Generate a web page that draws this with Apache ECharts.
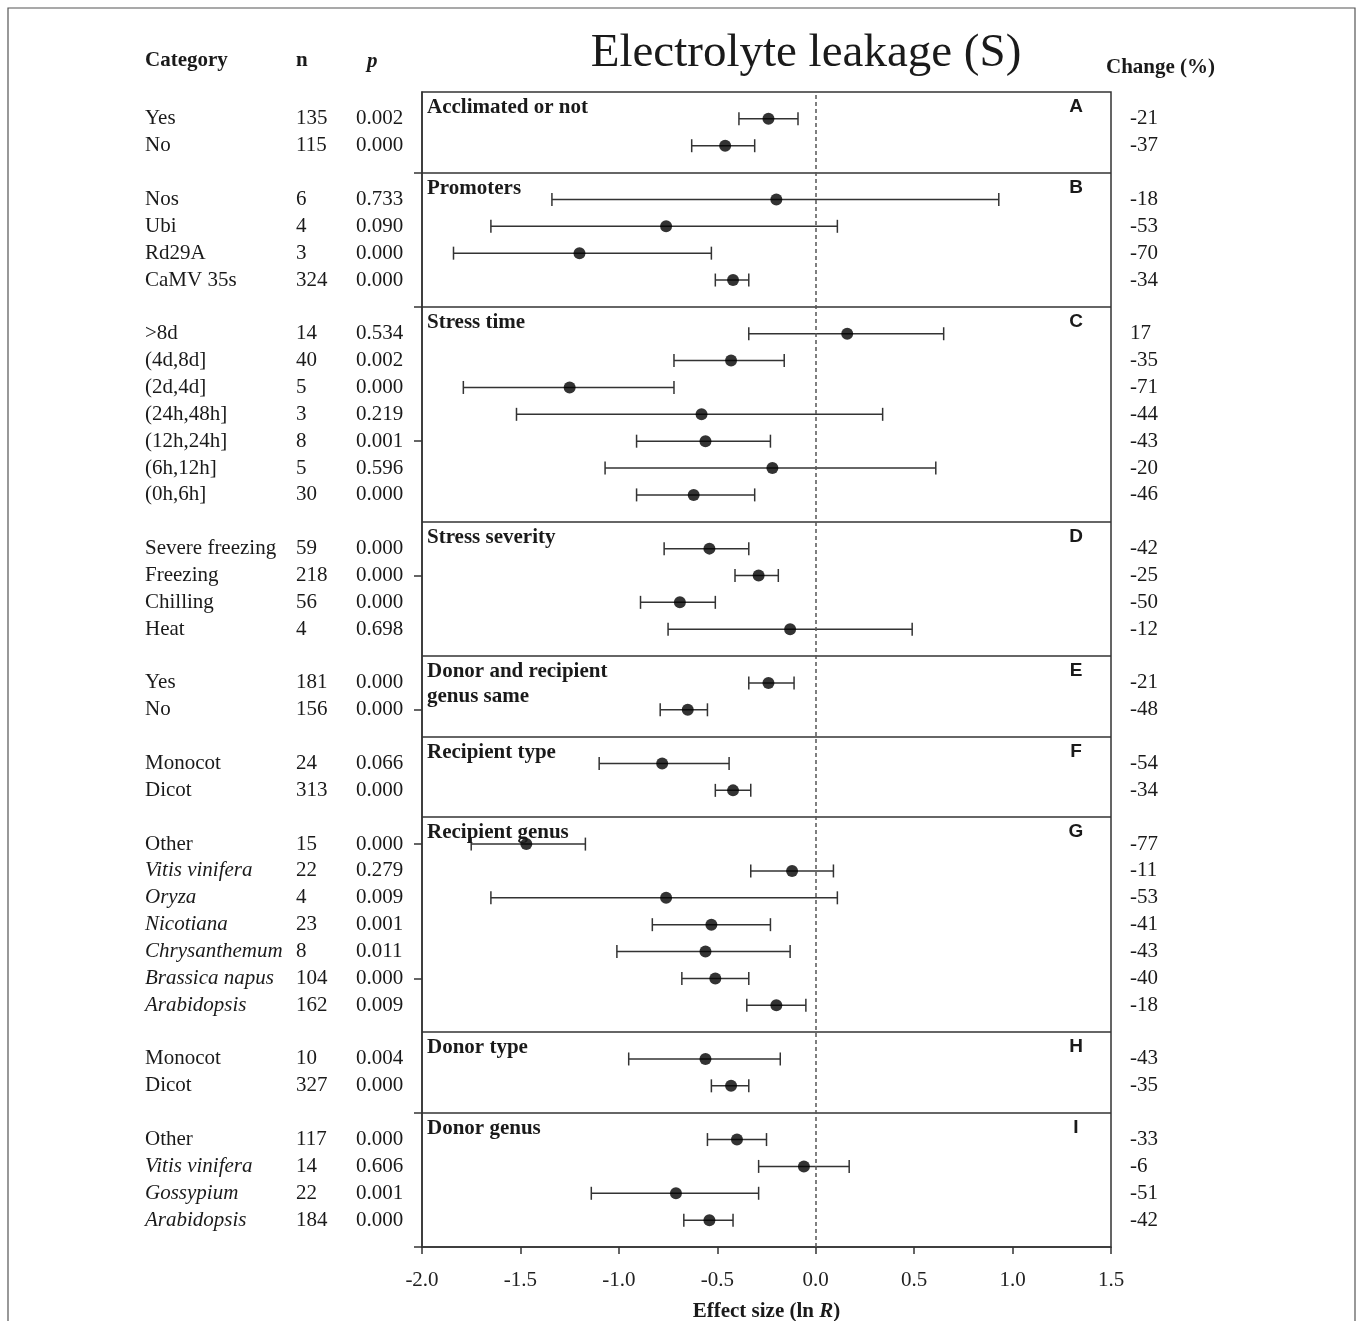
<!DOCTYPE html>
<html>
<head>
<meta charset="utf-8">
<script src="https://cdn.jsdelivr.net/npm/echarts@6/dist/echarts.min.js"></script>
<style>
  html, body { margin: 0; padding: 0; background: #fff; }
  #chart { width: 1357px; height: 1321px; }
</style>
</head>
<body>
<div id="chart"></div>
<script>
// Panels of the forest plot, top to bottom
const panelTitles = [
  'Acclimated or not', 'Promoters', 'Stress time', 'Stress severity',
  'Donor and recipient\ngenus same', 'Recipient type', 'Recipient genus',
  'Donor type', 'Donor genus'
];
const panelLetters = ['A', 'B', 'C', 'D', 'E', 'F', 'G', 'H', 'I'];
const panelSizes = [2, 4, 7, 4, 2, 2, 7, 2, 4];

// One entry per row, in drawing order
const categories = [
  'Yes', 'No',
  'Nos', 'Ubi', 'Rd29A', 'CaMV 35s',
  '>8d', '(4d,8d]', '(2d,4d]', '(24h,48h]', '(12h,24h]', '(6h,12h]', '(0h,6h]',
  'Severe freezing', 'Freezing', 'Chilling', 'Heat',
  'Yes', 'No',
  'Monocot', 'Dicot',
  'Other', 'Vitis vinifera', 'Oryza', 'Nicotiana', 'Chrysanthemum', 'Brassica napus', 'Arabidopsis',
  'Monocot', 'Dicot',
  'Other', 'Vitis vinifera', 'Gossypium', 'Arabidopsis'
];
const genusNames = ['Vitis vinifera', 'Oryza', 'Nicotiana', 'Chrysanthemum', 'Brassica napus', 'Arabidopsis', 'Gossypium'];
const nValues = [
  135, 115,
  6, 4, 3, 324,
  14, 40, 5, 3, 8, 5, 30,
  59, 218, 56, 4,
  181, 156,
  24, 313,
  15, 22, 4, 23, 8, 104, 162,
  10, 327,
  117, 14, 22, 184
];
const pValues = [
  '0.002', '0.000',
  '0.733', '0.090', '0.000', '0.000',
  '0.534', '0.002', '0.000', '0.219', '0.001', '0.596', '0.000',
  '0.000', '0.000', '0.000', '0.698',
  '0.000', '0.000',
  '0.066', '0.000',
  '0.000', '0.279', '0.009', '0.001', '0.011', '0.000', '0.009',
  '0.004', '0.000',
  '0.000', '0.606', '0.001', '0.000'
];
// Mean effect size (ln R) and its confidence interval
const effect = [
  -0.24, -0.46,
  -0.20, -0.76, -1.20, -0.42,
  0.16, -0.43, -1.25, -0.58, -0.56, -0.22, -0.62,
  -0.54, -0.29, -0.69, -0.13,
  -0.24, -0.65,
  -0.78, -0.42,
  -1.47, -0.12, -0.76, -0.53, -0.56, -0.51, -0.20,
  -0.56, -0.43,
  -0.40, -0.06, -0.71, -0.54
];
const ciLow = [
  -0.39, -0.63,
  -1.34, -1.65, -1.84, -0.51,
  -0.34, -0.72, -1.79, -1.52, -0.91, -1.07, -0.91,
  -0.77, -0.41, -0.89, -0.75,
  -0.34, -0.79,
  -1.10, -0.51,
  -1.75, -0.33, -1.65, -0.83, -1.01, -0.68, -0.35,
  -0.95, -0.53,
  -0.55, -0.29, -1.14, -0.67
];
const ciHigh = [
  -0.09, -0.31,
  0.93, 0.11, -0.53, -0.34,
  0.65, -0.16, -0.72, 0.34, -0.23, 0.61, -0.31,
  -0.34, -0.19, -0.51, 0.49,
  -0.11, -0.55,
  -0.44, -0.33,
  -1.17, 0.09, 0.11, -0.23, -0.13, -0.34, -0.05,
  -0.18, -0.34,
  -0.25, 0.17, -0.29, -0.42
];
const changePct = [
  -21, -37,
  -18, -53, -70, -34,
  17, -35, -71, -44, -43, -20, -46,
  -42, -25, -50, -12,
  -21, -48,
  -54, -34,
  -77, -11, -53, -41, -43, -40, -18,
  -43, -35,
  -33, -6, -51, -42
];
const xTicks = [-2.0, -1.5, -1.0, -0.5, 0.0, 0.5, 1.0, 1.5];

const SERIF = '"Liberation Serif", "Times New Roman", serif';
const SANS = '"Liberation Sans", Arial, sans-serif';
const INK = '#1a1a1a';
const LINE = '#333';

// Vertical layout: every panel takes its rows plus one empty slot on top
const totalSlots = panelSizes.reduce((s, n) => s + n + 1, 0);
const rowY = [];
const panelTop = [];
let slot = 0;
panelSizes.forEach(n => {
  panelTop.push(totalSlots - slot);
  for (let i = 1; i <= n; i++) rowY.push(totalSlots - (slot + i));
  slot += n + 1;
});
const separators = panelTop.slice(1);
const yTickValues = [];
for (let v = 0; v < totalSlots; v += 5) yTickValues.push(v);

const chart = echarts.init(document.getElementById('chart'), null, { renderer: 'canvas' });

const txt = (text, x, y, extra) => ({
  type: 'text', x, y, silent: true,
  style: Object.assign({
    text, fontFamily: SERIF, fontSize: 21, fill: INK,
    align: 'left', verticalAlign: 'middle'
  }, extra || {})
});

chart.setOption({
  animation: false,
  backgroundColor: '#fff',
  grid: {
    left: 422, right: 246, top: 92, bottom: 74,
    containLabel: false, outerBoundsMode: 'none',
    show: true, borderColor: LINE, borderWidth: 1.5, backgroundColor: 'transparent'
  },
  xAxis: {
    type: 'value', min: xTicks[0], max: xTicks[xTicks.length - 1], interval: 0.5,
    axisLine: { show: true, onZero: false, lineStyle: { color: LINE, width: 1.5 } },
    axisTick: { show: true, length: 7, lineStyle: { color: LINE, width: 1.5 } },
    axisLabel: {
      margin: 23, color: '#222', fontFamily: SERIF, fontSize: 21,
      formatter: v => v.toFixed(1)
    },
    splitLine: { show: false },
    name: '{b|Effect size (ln }{bi|R}{b|)}',
    nameLocation: 'middle', nameGap: 54,
    nameTextStyle: {
      rich: {
        b: { fontFamily: SERIF, fontSize: 21, fontWeight: 'bold', color: INK },
        bi: { fontFamily: SERIF, fontSize: 21, fontWeight: 'bold', fontStyle: 'italic', color: INK }
      }
    }
  },
  yAxis: {
    type: 'value', min: 0, max: totalSlots,
    axisLine: { show: true, onZero: false, lineStyle: { color: LINE, width: 1.5 } },
    axisTick: { show: true, length: 8, customValues: yTickValues, lineStyle: { color: LINE, width: 1.5 } },
    axisLabel: { show: false },
    splitLine: { show: false }
  },
  graphic: [
    { type: 'rect', silent: true, shape: { x: 8, y: 8, width: 1347, height: 1340 },
      style: { fill: 'none', stroke: '#555', lineWidth: 1.2 } },
    txt('Electrolyte leakage (S)', 806, 54, { fontSize: 47, align: 'center' }),
    txt('Category', 145, 61, { fontWeight: 'bold' }),
    txt('n', 296, 61, { fontWeight: 'bold' }),
    txt('p', 367, 62, { fontWeight: 'bold', fontStyle: 'italic' }),
    txt('Change (%)', 1106, 68, { fontWeight: 'bold' })
  ],
  series: [
    {
      // confidence intervals with end caps
      type: 'custom', name: 'ci', silent: true, z: 3,
      data: rowY.map((y, i) => [ciLow[i], ciHigh[i], y]),
      encode: { x: [0, 1], y: 2 },
      renderItem: (params, api) => {
        const a = api.coord([api.value(0), api.value(2)]);
        const b = api.coord([api.value(1), api.value(2)]);
        const cap = 6.5;
        const st = { stroke: LINE, lineWidth: 1.5 };
        return {
          type: 'group',
          children: [
            { type: 'line', shape: { x1: a[0], y1: a[1], x2: b[0], y2: b[1] }, style: st },
            { type: 'line', shape: { x1: a[0], y1: a[1] - cap, x2: a[0], y2: a[1] + cap }, style: st },
            { type: 'line', shape: { x1: b[0], y1: b[1] - cap, x2: b[0], y2: b[1] + cap }, style: st }
          ]
        };
      }
    },
    {
      type: 'scatter', name: 'effect', silent: true, z: 4,
      symbol: 'circle', symbolSize: 12,
      itemStyle: { color: '#000' },
      data: rowY.map((y, i) => [effect[i], y]),
      markLine: {
        silent: true, symbol: ['none', 'none'], label: { show: false },
        animation: false,
        data: separators.map(v => ({ yAxis: v, lineStyle: { color: LINE, width: 1.5, type: 'solid' } }))
          .concat([{ xAxis: 0, lineStyle: { color: '#555', width: 1.5, type: [4, 3] } }])
      }
    },
    {
      // table columns: category, n, p and change (%)
      type: 'custom', name: 'rows', silent: true, clip: false, z: 5,
      data: rowY.map((y, i) => [0, y, i]),
      encode: { x: 0, y: 1 },
      renderItem: (params, api) => {
        const i = api.value(2);
        const py = api.coord([0, api.value(1)])[1];
        const isGenus = genusNames.indexOf(categories[i]) >= 0;
        return {
          type: 'group',
          children: [
            txt(categories[i], 145, py, { fontStyle: isGenus ? 'italic' : 'normal' }),
            txt(String(nValues[i]), 296, py),
            txt(pValues[i], 356, py),
            txt(String(changePct[i]), 1130, py)
          ]
        };
      }
    },
    {
      // panel headings and letters
      type: 'custom', name: 'panels', silent: true, clip: false, z: 5,
      data: panelTop.map((t, k) => [0, t, k]),
      encode: { x: 0, y: 1 },
      renderItem: (params, api) => {
        const k = api.value(2);
        const left = api.coord([xTicks[0], api.value(1)]);
        const right = api.coord([xTicks[xTicks.length - 1], api.value(1)]);
        return {
          type: 'group',
          children: [
            txt(panelTitles[k], left[0] + 5, left[1] + 3,
              { fontWeight: 'bold', verticalAlign: 'top', lineHeight: 25 }),
            txt(panelLetters[k], right[0] - 35, right[1] + 15,
              { fontFamily: SANS, fontWeight: 'bold', fontSize: 19, align: 'center' })
          ]
        };
      }
    }
  ]
});
</script>
</body>
</html>
